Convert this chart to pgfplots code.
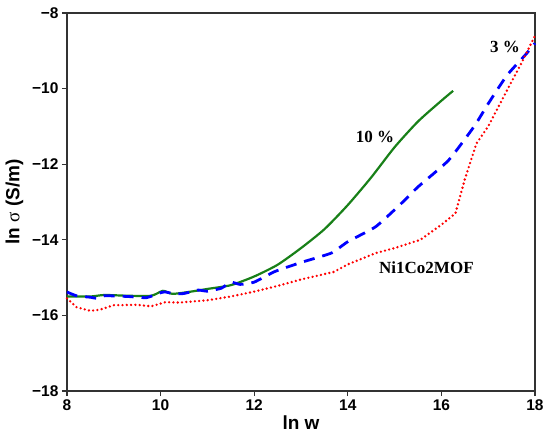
\documentclass[border=0pt]{standalone}
\usepackage{pgfplots}
\pgfplotsset{compat=1.18}
\usepackage{fontspec}
\setmainfont{Liberation Sans}
\newfontfamily\serifbold{Liberation Serif}
\definecolor{mygreen}{RGB}{24,128,24}
\pgfplotstableread{
x y
8.0 -15.50
8.5 -15.50
8.8 -15.46
9.3 -15.48
9.8 -15.48
10.05 -15.35
10.25 -15.43
10.6 -15.38
11.0 -15.30
11.5 -15.20
12.0 -14.97
12.5 -14.66
13.0 -14.22
13.5 -13.72
14.0 -13.08
14.5 -12.35
15.0 -11.55
15.5 -10.87
16.0 -10.32
16.25 -10.06
}\tengreen
\pgfplotstableread{
x y
8.0 -15.38
8.2 -15.48
8.5 -15.52
8.65 -15.55
8.8 -15.48
9.3 -15.50
9.7 -15.53
10.0 -15.40
10.1 -15.38
10.3 -15.43
10.5 -15.42
10.8 -15.33
11.0 -15.36
11.3 -15.28
11.5 -15.12
11.7 -15.18
12.0 -15.12
12.44 -14.84
13.0 -14.60
13.65 -14.35
14.0 -14.05
14.6 -13.65
15.15 -13.03
15.5 -12.60
16.15 -11.90
16.7 -11.00
17.0 -10.40
17.4 -9.65
17.8 -9.10
18.0 -8.80
}\threeblue
\pgfplotstableread{
x y
8.0 -15.55
8.2 -15.78
8.5 -15.88
8.7 -15.85
9.0 -15.73
9.5 -15.72
9.8 -15.76
10.1 -15.65
10.4 -15.66
11.0 -15.60
11.5 -15.50
12.0 -15.37
12.5 -15.22
13.0 -15.05
13.7 -14.85
14.0 -14.65
14.6 -14.35
15.0 -14.22
15.55 -14.00
16.0 -13.60
16.3 -13.30
16.5 -12.40
16.75 -11.45
17.0 -11.00
17.4 -10.05
17.7 -9.35
18.0 -8.60
}\mofred
\begin{document}
\begin{tikzpicture}
\begin{axis}[
  scale only axis,
  width=468pt, height=378pt,
  xmin=8, xmax=18, ymin=-18, ymax=-8,
  xtick={8,10,...,18},
  ytick={-18,-16,...,-8},
  yticklabels={−18,−16,−14,−12,−10,−8},
  xticklabel style={font=\fontsize{15.5}{17}\selectfont\bfseries},
  yticklabel style={font=\fontsize{15.5}{17}\selectfont\bfseries},
  /pgf/number format/assume math mode=true,
  tick align=outside,
  tick pos=left,
  major tick length=5pt,
  axis line style={line width=1.1pt, black!80},
  every tick/.style={line width=1.1pt, black!80},
  xlabel={ln w},
  ylabel={ln {\serifbold\mdseries σ} (S/m)},
  xlabel style={font=\fontsize{19}{21}\selectfont\bfseries, yshift=2pt},
  ylabel style={font=\fontsize{19}{21}\selectfont\bfseries, yshift=2pt},
  clip=false,
]
\addplot[mygreen, line width=2.2pt, smooth, tension=0.4] table {\tengreen};
\addplot[blue, line width=2.8pt, dash pattern=on 11pt off 8pt, smooth, tension=0.3] table {\threeblue};
\addplot[red, line width=2.6pt, dash pattern=on 0pt off 4.3pt, line cap=round] table {\mofred};
\node[font=\fontsize{17}{19}\selectfont\serifbold\bfseries] at (axis cs:14.58,-11.28) {10 \%};
\node[font=\fontsize{17}{19}\selectfont\serifbold\bfseries] at (axis cs:17.36,-8.9) {3 \%};
\node[font=\fontsize{17}{19}\selectfont\serifbold\bfseries] at (axis cs:15.68,-14.75) {Ni1Co2MOF};
\end{axis}
\pgfresetboundingbox
\path (-67pt,-54pt) rectangle (483pt,391pt);
\end{tikzpicture}
\end{document}
